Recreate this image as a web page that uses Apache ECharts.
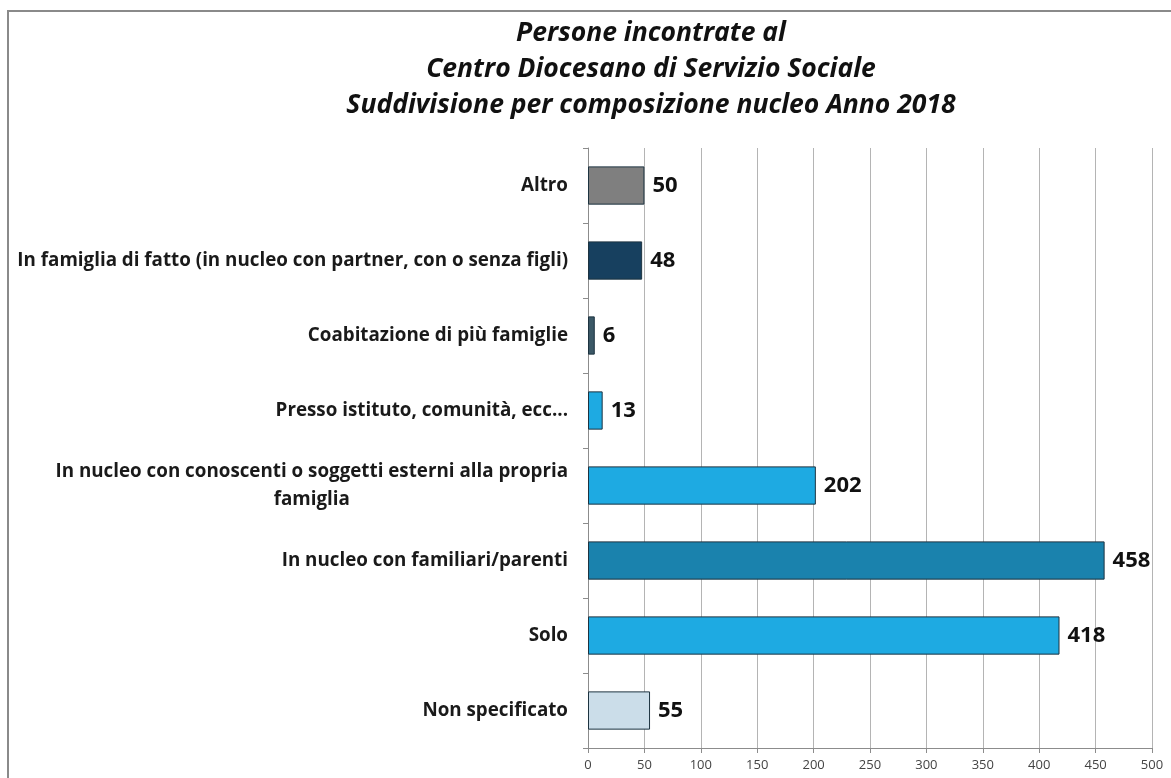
<!DOCTYPE html>
<html>
<head>
<meta charset="utf-8">
<script src="https://cdn.jsdelivr.net/npm/echarts@6/dist/echarts.min.js"></script>
<style>
  html, body { margin: 0; padding: 0; background: #fff; }
  #chart { width: 1171px; height: 778px; }
</style>
</head>
<body>
<div id="chart"></div>
<script>
// Household composition of people met in 2018 (top to bottom)
const categories = [
  'Altro',
  'In famiglia di fatto (in nucleo con partner, con o senza figli)',
  'Coabitazione di più famiglie',
  'Presso istituto, comunità, ecc...',
  'In nucleo con conoscenti o soggetti esterni alla propria\nfamiglia',
  'In nucleo con familiari/parenti',
  'Solo',
  'Non specificato'
];
const values = [50, 48, 6, 13, 202, 458, 418, 55];
const barColors = ['#7f7f7f', '#17405f', '#3b5866', '#1eaae2', '#1eaae2', '#1a82ad', '#1eaae2', '#cbdde9'];
const titleLines = [
  'Persone incontrate al',
  'Centro Diocesano di Servizio Sociale',
  'Suddivisione per composizione nucleo Anno 2018'
];

const FONT = '"Open Sans", Lato, sans-serif';
const chart = echarts.init(document.getElementById('chart'), null, { renderer: 'canvas' });

chart.setOption({
  backgroundColor: '#ffffff',
  animation: false,
  title: {
    text: titleLines.join('\n'),
    left: 646,
    top: 10,
    textAlign: 'center',
    textStyle: {
      fontFamily: FONT,
      fontStyle: 'italic',
      fontWeight: 'bold',
      fontSize: 26.5,
      lineHeight: 36,
      color: '#111'
    }
  },
  graphic: [{
    type: 'polyline',
    shape: { points: [[8, 800], [8, 11], [1200, 11]] },
    style: { stroke: '#8a8a8a', lineWidth: 2, fill: null },
    silent: true
  }],
  grid: {
    left: 588,
    right: 19,
    top: 148,
    bottom: 30,
    containLabel: false,
    outerBoundsMode: 'none'
  },
  xAxis: {
    type: 'value',
    min: 0,
    max: 500,
    interval: 50,
    axisLine: { show: true, lineStyle: { color: '#8c8c8c', width: 1 } },
    axisTick: { show: true, length: 5, lineStyle: { color: '#8c8c8c' } },
    axisLabel: {
      fontFamily: FONT,
      fontSize: 13,
      color: '#444',
      margin: 11
    },
    splitLine: { show: true, lineStyle: { color: '#b4b4b4', width: 1 } }
  },
  yAxis: {
    type: 'category',
    inverse: true,
    data: categories,
    axisLine: { show: true, lineStyle: { color: '#8c8c8c', width: 1 } },
    axisTick: { show: true, length: 5, lineStyle: { color: '#8c8c8c' } },
    axisLabel: {
      margin: 20,
      fontFamily: FONT,
      fontWeight: 'bold',
      fontSize: 18.8,
      color: '#1a1a1a',
      lineHeight: 28,
      formatter: function (v) {
        return v.split('\n').map(function (s) { return '{c|' + s + '}'; }).join('\n');
      },
      rich: {
        c: {
          align: 'center',
          fontFamily: FONT,
          fontWeight: 'bold',
          fontSize: 18.8,
          lineHeight: 28,
          color: '#1a1a1a'
        }
      }
    }
  },
  series: [{
    type: 'bar',
    data: values.map(function (v, i) {
      return { value: v, itemStyle: { color: barColors[i] } };
    }),
    barCategoryGap: '49%',
    itemStyle: { borderColor: '#1d3340', borderWidth: 1 },
    label: {
      show: true,
      position: 'right',
      distance: 8,
      fontFamily: FONT,
      fontWeight: 'bold',
      fontSize: 22,
      color: '#111'
    }
  }]
});
</script>
</body>
</html>
